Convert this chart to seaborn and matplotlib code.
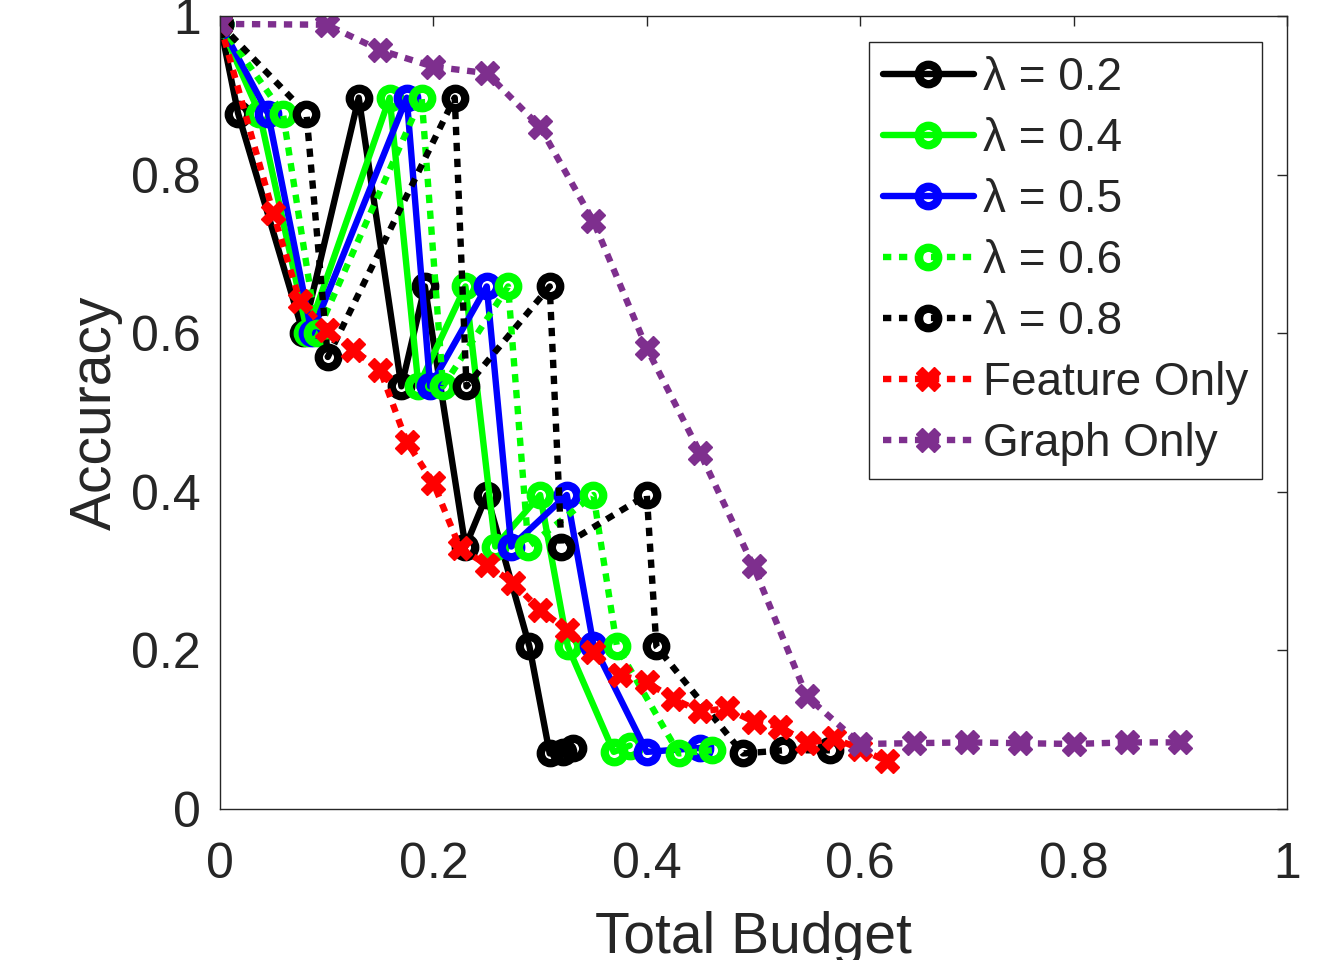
import numpy as np
import pandas as pd
import seaborn as sns
import matplotlib
matplotlib.use("Agg")
import matplotlib.pyplot as plt

sns.set_style("white")
plt.rcParams['font.family'] = ['Liberation Sans', 'DejaVu Sans']

# lambda = 0.2 (black solid)
x_l02 = [0.0, 0.017, 0.078, 0.130, 0.170, 0.192, 0.230, 0.250, 0.290, 0.309, 0.321, 0.331]
y_l02 = [0.99, 0.877, 0.600, 0.897, 0.533, 0.659, 0.331, 0.396, 0.205, 0.070, 0.072, 0.077]

# lambda = 0.4 (green solid)
x_l04 = [0.0, 0.037, 0.082, 0.159, 0.186, 0.230, 0.258, 0.300, 0.326, 0.369, 0.384]
y_l04 = [0.99, 0.877, 0.600, 0.897, 0.533, 0.659, 0.331, 0.396, 0.205, 0.072, 0.080]

# lambda = 0.5 (blue solid)
x_l05 = [0.0, 0.045, 0.086, 0.175, 0.197, 0.250, 0.273, 0.325, 0.350, 0.400, 0.450]
y_l05 = [0.99, 0.877, 0.600, 0.897, 0.533, 0.659, 0.331, 0.396, 0.207, 0.072, 0.077]

# lambda = 0.6 (green dotted)
x_l06 = [0.0, 0.059, 0.091, 0.189, 0.209, 0.270, 0.289, 0.350, 0.372, 0.430, 0.461]
y_l06 = [0.99, 0.877, 0.600, 0.897, 0.533, 0.659, 0.331, 0.396, 0.205, 0.070, 0.074]

# lambda = 0.8 (black dotted)
x_l08 = [0.0, 0.081, 0.101, 0.220, 0.231, 0.309, 0.320, 0.400, 0.409, 0.490, 0.528, 0.572]
y_l08 = [0.99, 0.877, 0.570, 0.897, 0.533, 0.659, 0.331, 0.396, 0.205, 0.070, 0.074, 0.074]

# Feature Only (red)
x_feat = [0.0, 0.050, 0.075, 0.100, 0.125, 0.150, 0.175, 0.200, 0.225, 0.250, 0.275, 0.300,
          0.325, 0.350, 0.375, 0.400, 0.425, 0.450, 0.475, 0.500, 0.525, 0.550, 0.575, 0.600, 0.625]
y_feat = [0.99, 0.751, 0.640, 0.604, 0.579, 0.554, 0.463, 0.411, 0.329, 0.308, 0.285, 0.251,
          0.226, 0.198, 0.169, 0.160, 0.139, 0.123, 0.127, 0.110, 0.104, 0.083, 0.089, 0.076, 0.060]

# Graph Only (purple)
x_graph = [0.0, 0.10, 0.15, 0.20, 0.25, 0.30, 0.35, 0.40, 0.45, 0.50, 0.55, 0.60, 0.65, 0.70, 0.75, 0.80, 0.85, 0.90]
y_graph = [0.99, 0.989, 0.957, 0.936, 0.928, 0.860, 0.741, 0.581, 0.449, 0.306, 0.142, 0.082, 0.083, 0.084, 0.083, 0.082, 0.084, 0.084]

labels = ['λ = 0.2', 'λ = 0.4', 'λ = 0.5', 'λ = 0.6', 'λ = 0.8', 'Feature Only', 'Graph Only']
colors = ['#000000', '#00FF00', '#0000FF', '#00FF00', '#000000', '#FF0000', '#7E2F8E']

dot = (0, (1.3, 1.2))
styles = ['-', '-', '-', dot, dot, dot, dot]
markers = ['o', 'o', 'o', 'o', 'o', 'X', 'X']
xs_all = [x_l02, x_l04, x_l05, x_l06, x_l08, x_feat, x_graph]
ys_all = [y_l02, y_l04, y_l05, y_l06, y_l08, y_feat, y_graph]

fig = plt.figure(figsize=(13.43, 9.6), dpi=100)
ax = fig.add_axes([220 / 1343, 1 - 809 / 960, 1067 / 1343, 793 / 960])

for xs, ys, lab, col, ls, mk in zip(xs_all, ys_all, labels, colors, styles, markers):
    sns.lineplot(x=xs, y=ys, ax=ax, sort=False, estimator=None, color=col,
                 linestyle=ls, label=lab, marker=mk)
    ln = ax.lines[-1]
    ln.set_linewidth(4.6)
    ln.set_linestyle(ls)
    ln.set_markeredgecolor(col)
    if mk == 'o':
        ln.set_markerfacecolor('none')
        ln.set_markersize(14)
        ln.set_markeredgewidth(6)
    else:
        ln.set_markerfacecolor(col)
        ln.set_markersize(17)
        ln.set_markeredgewidth(1)

ax.set_xlim(0, 1)
ax.set_ylim(0, 1)
ax.set_xticks([0, 0.2, 0.4, 0.6, 0.8, 1])
ax.set_xticklabels(['0', '0.2', '0.4', '0.6', '0.8', '1'])
ax.set_yticks([0, 0.2, 0.4, 0.6, 0.8, 1])
ax.set_yticklabels(['0', '0.2', '0.4', '0.6', '0.8', '1'])
ax.tick_params(direction='in', top=True, right=True, length=7, width=1,
               labelsize=36, colors='#262626')
ax.tick_params(axis='x', pad=24)
ax.tick_params(axis='y', pad=14)
for sp in ax.spines.values():
    sp.set_color('#262626')
    sp.set_linewidth(1)

ax.set_xlabel('Total Budget', fontsize=41, color='#262626', labelpad=16)
ax.set_ylabel('Accuracy', fontsize=41, color='#262626', labelpad=6)

leg = ax.legend(loc='upper right', bbox_to_anchor=(0.977, 0.967), fontsize=33,
                frameon=True, fancybox=False, framealpha=1, edgecolor='#262626',
                handlelength=2.0, handletextpad=0.2, labelspacing=0.37,
                borderpad=0.3, borderaxespad=0)
leg.get_frame().set_linewidth(1)
for h in leg.legend_handles:
    h.set_linewidth(4.6)

plt.savefig('out.png', dpi=100)
